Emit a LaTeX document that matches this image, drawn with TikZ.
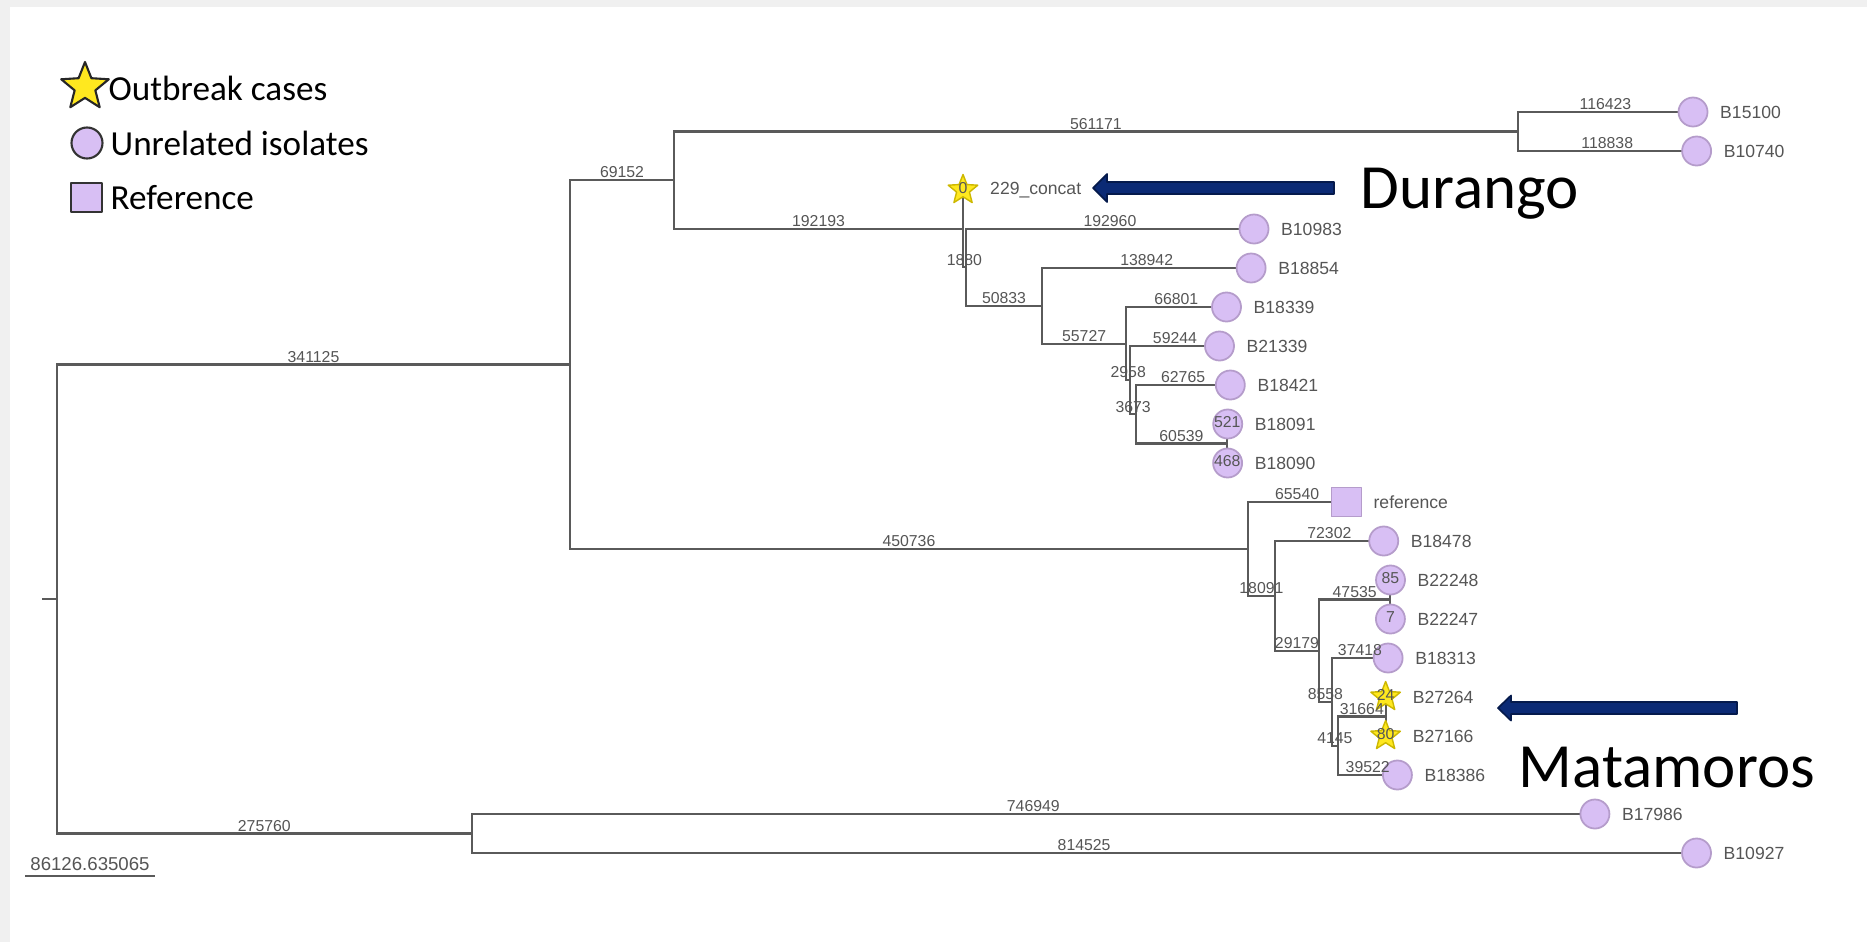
\documentclass[tikz,border=0pt]{standalone}
\usepackage{fontspec}
\setmainfont{Carlito}
\newfontfamily\arialf{Liberation Sans}
\usetikzlibrary{shapes.geometric}
\pgfdeclarelayer{back}
\pgfsetlayers{back,main}
\definecolor{framegray}{HTML}{F0F0F0}
\definecolor{linegray}{HTML}{5A5A5A}
\definecolor{labgray}{HTML}{555555}
\definecolor{lilac}{HTML}{D8BFF4}
\definecolor{lilacedge}{HTML}{B59CCB}
\definecolor{caseyellow}{HTML}{FFE81F}
\definecolor{caseedge}{HTML}{CDB800}
\definecolor{navy}{HTML}{0B2A75}
\definecolor{navyedge}{HTML}{051A4C}
\begin{document}
\begin{tikzpicture}[x=0.01cm, y=-0.01cm, line join=round,
	branch/.style={draw=linegray, line width=0.6pt},
	blab/.style={font=\arialf\fontsize{4.5}{5}\selectfont, text=labgray, inner sep=0.4pt, anchor=south, pos=0.75},
	inlab/.style={blab, anchor=base, yshift=-0.35mm},
	iso/.style={circle, fill=lilac, draw=lilacedge, line width=0.5pt, minimum size=2.9mm, inner sep=0pt},
	case/.style={star, star points=5, star point ratio=2.3, fill=caseyellow, draw=caseedge, line width=0.4pt, minimum size=3.1mm, inner sep=0pt},
	refsq/.style={rectangle, fill=lilac, draw=lilacedge, line width=0.5pt, minimum width=3mm, minimum height=2.9mm, inner sep=0pt},
	leaflab/.style={font=\arialf\fontsize{5}{6}\selectfont, text=labgray, inner sep=0pt, anchor=west},
	legtext/.style={font=\fontsize{10}{12}\selectfont, inner sep=0pt, anchor=base west},
	place/.style={font=\fontsize{17.9}{21}\selectfont, inner sep=0pt, anchor=base west},
	callout/.style={fill=navy, draw=navyedge, line width=0.5pt}]
	\useasboundingbox (0,0) rectangle (1867,942);
	\begin{pgfonlayer}{back}
		\fill[framegray] (0,0) rectangle (1867,942);
		\fill[white] (10,7) rectangle (1867,942);
	\end{pgfonlayer}
	% legend
	\node[case, minimum size=5mm, draw=black!85, line width=0.6pt] (legstar) at (85,87) {};
	\node[legtext] (legstartext) at (108,100) {Outbreak cases};
	\node[iso, minimum size=3.1mm, draw=black!80, line width=0.6pt] (legdot) at (87,143) {};
	\node[legtext] (legdottext) at (110,155) {Unrelated isolates};
	\node[refsq, minimum width=3.1mm, draw=black!80, line width=0.6pt] (legbox) at (86.5,197.5) {};
	\node[legtext] (legboxtext) at (110,209) {Reference};
	% inner nodes of the tree
	\foreach \n/\x/\y in {root/57/599, A/570/364.5, B/674/180.1, C/1517.9/131.5, D/963/228.7,
		D2/965.8/267.4, F/1042.2/305.8, G/1126/343.6, H/1130.4/380.1, I/1135.9/414.3,
		J/1226.9/443.5, K/1247.8/548.9, L/1275/595.8, M/1318.9/650.7, Q/1390.4/599.5,
		N/1331.8/701.9, O/1338/745.8, P/1385.6/716.5, R/471.7/833.5}
		\coordinate (\n) at (\x,\y);
	% leaves
	\foreach \n/\x/\y/\s/\t in {b15100/1693/112/iso/B15100, b10740/1696.6/151/iso/B10740,
		concat/963/190/case/229\_concat, b10983/1254/229/iso/B10983, b18854/1251.1/268/iso/B18854,
		b18339/1226.5/307/iso/B18339, b21339/1219.5/346/iso/B21339, b18421/1230.3/385/iso/B18421,
		b18091/1227.7/424/iso/B18091, b18090/1227.6/463/iso/B18090, ref/1346.4/502/refsq/reference,
		b18478/1383.7/541/iso/B18478, b22248/1390.5/580/iso/B22248, b22247/1390.4/619/iso/B22247,
		b18313/1388.1/658/iso/B18313, b27264/1385.6/697/case/B27264, b27166/1385.6/736/case/B27166,
		b18386/1397.4/775/iso/B18386, b17986/1594.9/814/iso/B17986, b10927/1696.5/853/iso/B10927}
	{
		\node[\s] (\n) at (\x,\y) {};
		\node[leaflab] (\n-lab) at ([xshift=2.65mm]\n.center) {\t};
	}
	% branches with their lengths
	\foreach \p/\c/\l/\s in {root/A/341125/blab, root/R/275760/blab, A/B/69152/blab, A/K/450736/blab,
		B/C/561171/blab, B/D/192193/blab, C/b15100/116423/blab, C/b10740/118838/blab,
		D/concat/0/inlab, D/D2/1880/blab, D2/b10983/192960/blab, D2/F/50833/blab,
		F/b18854/138942/blab, F/G/55727/blab, G/b18339/66801/blab, G/H/2958/blab,
		H/b21339/59244/blab, H/I/3673/blab, I/b18421/62765/blab, I/J/60539/blab,
		J/b18091/521/inlab, J/b18090/468/inlab, K/ref/65540/blab, K/L/18091/blab,
		L/b18478/72302/blab, L/M/29179/blab, M/Q/47535/blab, M/N/8558/blab,
		Q/b22248/85/inlab, Q/b22247/7/inlab, N/b18313/37418/blab, N/O/4145/blab,
		O/P/31664/blab, O/b18386/39522/blab, P/b27264/24/inlab, P/b27166/80/inlab,
		R/b17986/746949/blab, R/b10927/814525/blab}
	{
		\begin{pgfonlayer}{back}\draw[branch] (\p) |- (\c.center);\end{pgfonlayer}
		\path (\p) |- node[\s]{\l} (\c.center);
	}
	\draw[branch] (root) -- ++(-15,0);
	% scale bar
	\coordinate (sb1) at (25,876);
	\coordinate (sb2) at (155,876);
	\draw[branch] (sb1) -- node[above, font=\arialf\fontsize{5.3}{6}\selectfont, text=labgray, inner sep=1.1pt]{86126.635065} (sb2);
	% places
	\node[place] (durango) at (1360,208) {Durango};
	\node[place] (matamoros) at (1518,787) {Matamoros};
	\coordinate (durTip) at (1093,188);
	\coordinate (matTip) at (1498,708);
	\filldraw[callout] (durTip) -- ++(14,-14) -- ++(0,8) -- ++(227,0) -- ++(0,12) -- ++(-227,0) -- ++(0,8) -- cycle;
	\filldraw[callout] (matTip) -- ++(13,-12.5) -- ++(0,6.5) -- ++(226,0) -- ++(0,12) -- ++(-226,0) -- ++(0,6.5) -- cycle;
\end{tikzpicture}
\end{document}
